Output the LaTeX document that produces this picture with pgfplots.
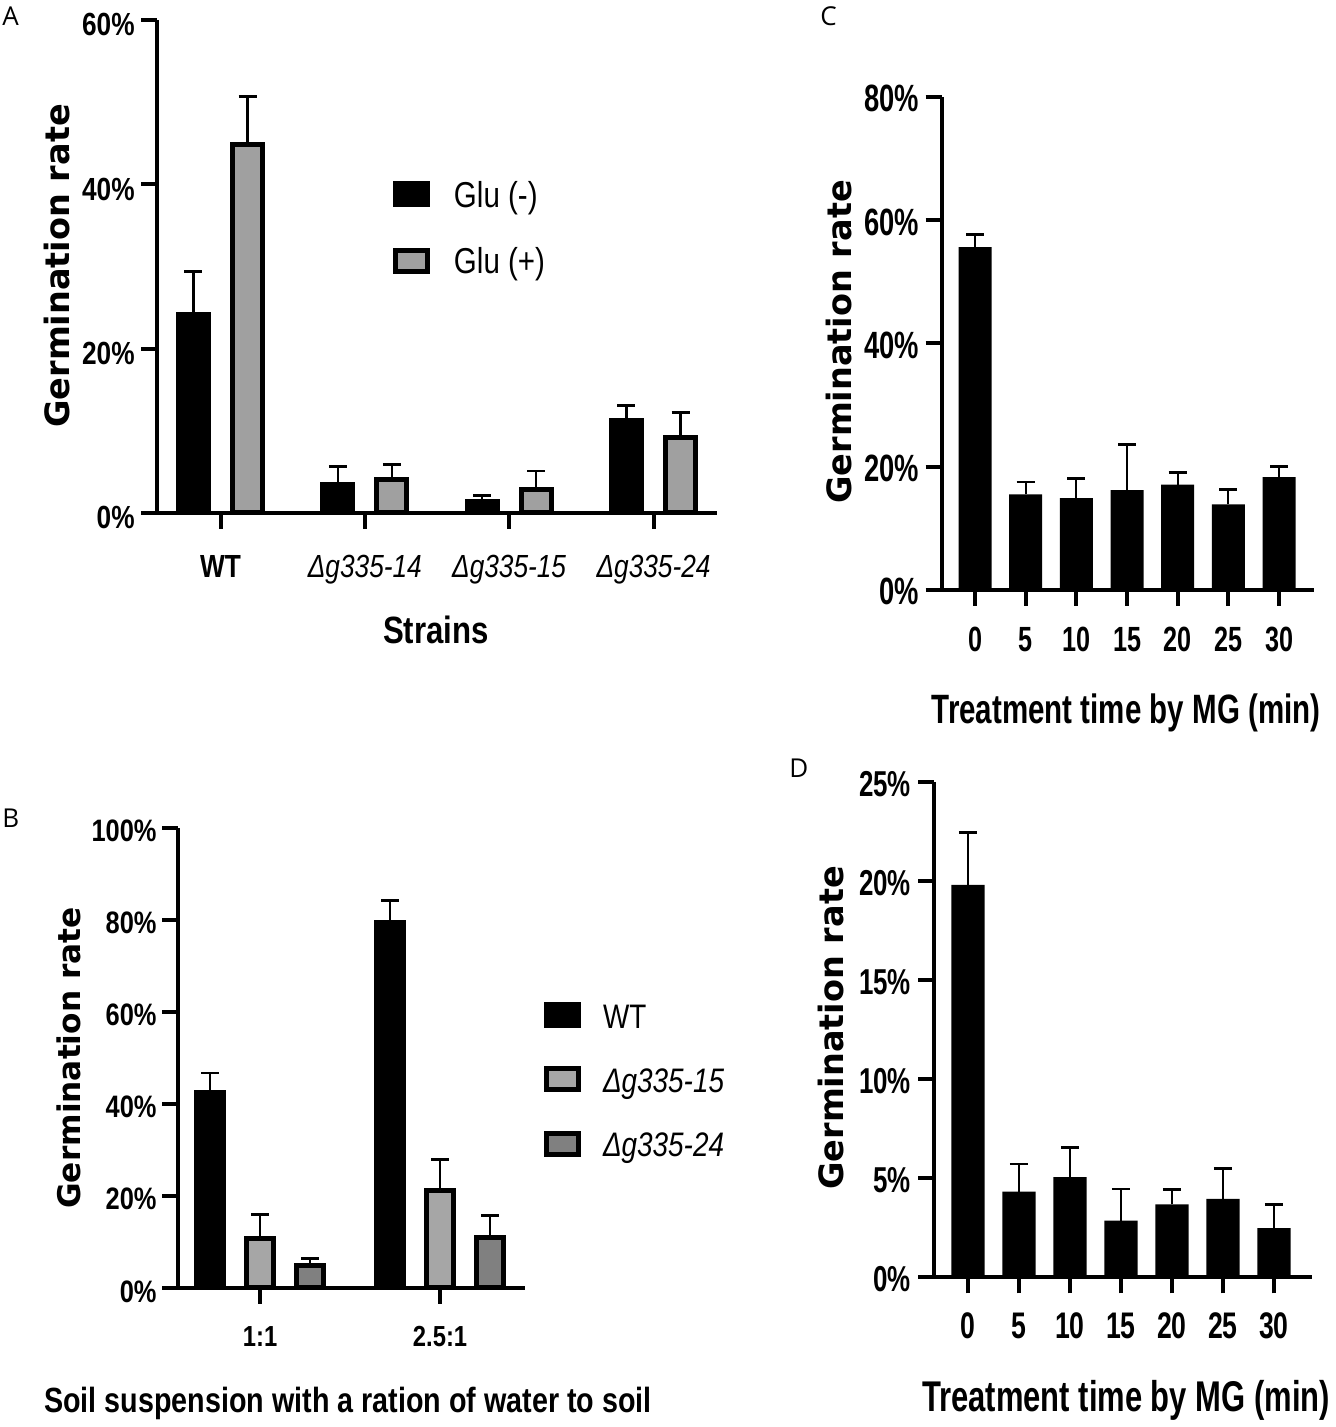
\documentclass[border=0pt]{standalone}
\usepackage{fontspec}
\usepackage{pgfplots}
\pgfplotsset{compat=1.18}
\setmainfont{Liberation Sans}
\newfontfamily\fN[FakeStretch=0.82]{Liberation Sans}
\newfontfamily\fC[FakeStretch=0.72]{Liberation Sans}
\newfontfamily\fY{DejaVu Sans}
\newfontfamily\fP{Open Sans}
\definecolor{gA}{RGB}{160,160,160}
\definecolor{gB1}{RGB}{166,166,166}
\definecolor{gB2}{RGB}{128,128,128}
\pgfplotsset{
  panel/.style={scale only axis, anchor=south west, axis x line*=bottom, axis y line*=left,
    axis line style={line width=2pt, black}, tick align=outside, major tick length=8pt,
    tick style={line width=2pt, black}, ymin=0, clip=false, minor tick num=0},
  boxlegend/.style={legend image code/.code={\draw[##1, line width=2.5pt] (0pt,1.25pt) rectangle (16pt,11.75pt);}},
  eb/.style={error bars/.cd, y dir=plus, y explicit,
    error bar style={line width=1.1pt, draw=black},
    error mark options={rotate=90, line width=1.4pt, draw=black, mark size=4.5pt}},
}
\begin{document}
\begin{tikzpicture}
\path[use as bounding box] (0,0) rectangle (668pt,713.5pt);

% ---------------- Panel A ----------------
\begin{axis}[panel, at={(78.5pt,457pt)}, width=280pt, height=246.5pt,
  xmin=-0.44, xmax=3.44, ymax=60, ybar, bar width=0.208,
  xtick={0,1,2,3}, xticklabels={\textbf{WT},\textit{Δg335-14},\textit{Δg335-15},\textit{Δg335-24}},
  ytick={0,20,40,60}, yticklabels={0\%,20\%,40\%,60\%},
  yticklabel style={font=\fN\bfseries\fontsize{16pt}{19pt}\selectfont, anchor=base east, inner sep=0pt, xshift=-3pt, yshift=-8pt},
  xticklabel style={font=\fN\fontsize{16pt}{19pt}\selectfont, anchor=base, inner sep=0pt, yshift=-24.5pt},
  legend style={at={(0.4214,0.6734)}, anchor=north west, draw=none, fill=none, inner sep=0pt, outer sep=0pt,
    row sep=16.4pt, font=\fN\fontsize{18pt}{21pt}\selectfont, nodes={inner sep=0pt, anchor=base west, text depth=4pt},
    /tikz/every odd column/.append style={column sep=12pt}},
  legend cell align=left]
\addplot[fill=black, draw=black, line width=2.5pt, bar shift=-0.1875, boxlegend, eb]
  coordinates {(0,24.2) +- (0,5.2) (1,3.5) +- (0,2.2) (2,1.4) +- (0,0.7) (3,11.2) +- (0,1.9)};
\addlegendentry{Glu (-)}
\addplot[fill=gA, draw=black, line width=2.5pt, bar shift=0.1875, boxlegend, eb]
  coordinates {(0,44.9) +- (0,5.8) (1,4.05) +- (0,1.85) (2,2.9) +- (0,2.2) (3,9.2) +- (0,3.0)};
\addlegendentry{Glu (+)}
\end{axis}

% ---------------- Panel B ----------------
\begin{axis}[panel, at={(89pt,69.5pt)}, width=173.5pt, height=230.15pt,
  xmin=-0.456, xmax=1.472, ymax=100, ybar, bar width=0.15,
  xtick={0,1}, xticklabels={1:1,2.5:1},
  ytick={0,20,40,60,80,100}, yticklabels={0\%,20\%,40\%,60\%,80\%,100\%},
  yticklabel style={font=\fN\bfseries\fontsize{15.5pt}{18pt}\selectfont, anchor=base east, inner sep=0pt, xshift=-2.5pt, yshift=-7pt},
  xticklabel style={font=\fN\bfseries\fontsize{14.5pt}{17pt}\selectfont, anchor=base, inner sep=0pt, yshift=-21pt},
  legend style={at={(1.0548,0.6213)}, anchor=north west, draw=none, fill=none, inner sep=0pt, outer sep=0pt,
    row sep=15.2pt, font=\fN\fontsize{17pt}{20pt}\selectfont, nodes={inner sep=0pt, anchor=base west, text depth=4pt},
    /tikz/every odd column/.append style={column sep=11pt}},
  legend cell align=left]
\addplot[fill=black, draw=black, line width=2.5pt, bar shift=-0.278, boxlegend, eb]
  coordinates {(0,42.4) +- (0,4.3) (1,79.3) +- (0,4.9)};
\addlegendentry{WT}
\addplot[fill=gB1, draw=black, line width=2.5pt, bar shift=0, boxlegend, eb]
  coordinates {(0,10.8) +- (0,5.1) (1,21.2) +- (0,6.8)};
\addlegendentry{\textit{Δg335-15}}
\addplot[fill=gB2, draw=black, line width=2.5pt, bar shift=0.278, boxlegend, eb]
  coordinates {(0,4.9) +- (0,1.5) (1,11.0) +- (0,4.7)};
\addlegendentry{\textit{Δg335-24}}
\end{axis}

% ---------------- Panel C ----------------
\begin{axis}[panel, at={(470.85pt,418.5pt)}, width=186.15pt, height=246.65pt,
  xmin=-3.29, xmax=33.45, ymax=80, ybar, bar width=3.26,
  xtick={0,5,10,15,20,25,30}, xticklabels={0,5,10,15,20,25,30},
  ytick={0,20,40,60,80}, yticklabels={0\%,20\%,40\%,60\%,80\%},
  yticklabel style={font=\fC\bfseries\fontsize{19pt}{22pt}\selectfont, anchor=base east, inner sep=0pt, xshift=-3.2pt, yshift=-7.5pt},
  xticklabel style={font=\fC\bfseries\fontsize{17.5pt}{20pt}\selectfont, anchor=base, inner sep=0pt, yshift=-23pt}]
\addplot[fill=black, draw=none, bar shift=0, eb]
  coordinates {(0,55.6) +- (0,2.0) (5,15.5) +- (0,2.0) (10,14.9) +- (0,3.2) (15,16.2) +- (0,7.4)
               (20,17.1) +- (0,1.9) (25,13.9) +- (0,2.4) (30,18.3) +- (0,1.7)};
\end{axis}

% ---------------- Panel D ----------------
\begin{axis}[panel, at={(467pt,74.75pt)}, width=188.85pt, height=247.9pt,
  xmin=-3.33, xmax=33.7, ymax=25, ybar, bar width=3.24,
  xtick={0,5,10,15,20,25,30}, xticklabels={0,5,10,15,20,25,30},
  ytick={0,5,10,15,20,25}, yticklabels={0\%,5\%,10\%,15\%,20\%,25\%},
  yticklabel style={font=\fC\bfseries\fontsize{18pt}{21pt}\selectfont, anchor=base east, inner sep=0pt, xshift=-3.3pt, yshift=-7.2pt},
  xticklabel style={font=\fC\bfseries\fontsize{18.5pt}{21pt}\selectfont, anchor=base, inner sep=0pt, yshift=-22.75pt}]
\addplot[fill=black, draw=none, bar shift=0, eb]
  coordinates {(0,19.8) +- (0,2.65) (5,4.33) +- (0,1.39) (10,5.06) +- (0,1.48) (15,2.87) +- (0,1.59)
               (20,3.69) +- (0,0.75) (25,3.97) +- (0,1.54) (30,2.49) +- (0,1.18)};
\end{axis}

% ---------------- Labels ----------------
\begin{scope}[every node/.style={inner sep=0pt}]
\node[rotate=90, anchor=base, font=\fY\bfseries\fontsize{16.75pt}{20pt}\selectfont] at (35pt,580.5pt) {Germination rate};
\node[rotate=90, anchor=base, font=\fY\bfseries\fontsize{15.6pt}{19pt}\selectfont] at (40pt,184.5pt) {Germination rate};
\node[rotate=90, anchor=base, font=\fY\bfseries\fontsize{16.75pt}{20pt}\selectfont] at (425.5pt,542.5pt) {Germination rate};
\node[rotate=90, anchor=base, font=\fY\bfseries\fontsize{16.75pt}{20pt}\selectfont] at (421.5pt,199.5pt) {Germination rate};
\node[anchor=base, font=\fN\bfseries\fontsize{19pt}{22pt}\selectfont] at (218pt,391.5pt) {Strains};
\node[anchor=base, font=\fN\bfseries\fontsize{17.5pt}{20pt}\selectfont] at (174pt,7pt) {Soil suspension with a ration of water to soil};
\node[anchor=base, font=\fC\bfseries\fontsize{20.5pt}{24pt}\selectfont] at (563pt,351.5pt) {Treatment time by MG (min)};
\node[anchor=base, font=\fC\bfseries\fontsize{21.5pt}{25pt}\selectfont] at (563pt,8pt) {Treatment time by MG (min)};
\node[anchor=base west, font=\fP\fontsize{13pt}{15pt}\selectfont] at (1pt,700.5pt) {A};
\node[anchor=base west, font=\fP\fontsize{13pt}{15pt}\selectfont] at (1pt,299.5pt) {B};
\node[anchor=base west, font=\fP\fontsize{13pt}{15pt}\selectfont] at (410pt,700.5pt) {C};
\node[anchor=base west, font=\fP\fontsize{13pt}{15pt}\selectfont] at (394.5pt,324.5pt) {D};
\end{scope}
\end{tikzpicture}
\end{document}
